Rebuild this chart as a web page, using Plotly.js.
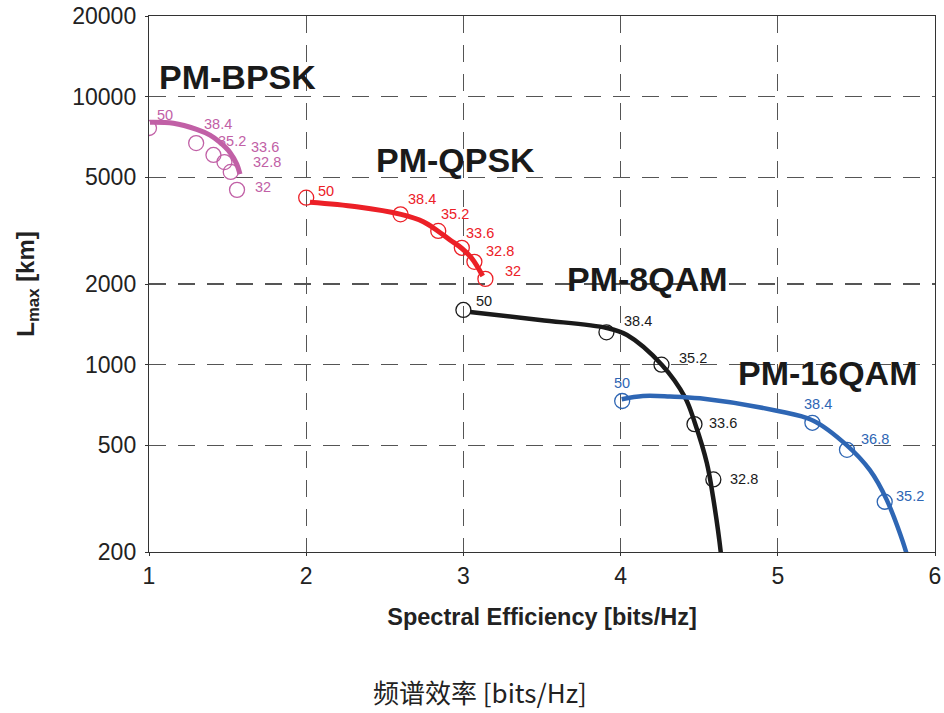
<!DOCTYPE html>
<html>
<head>
<meta charset="utf-8">
<script src="https://cdn.plot.ly/plotly-3.0.1.min.js"></script>
<style>html,body{margin:0;padding:0;background:#fff;}#chart{width:944px;height:713px;}</style>
</head>
<body>
<div id="chart"></div>
<script>
// ---- Data ----
const xTicks = [1, 2, 3, 4, 5, 6];
const yTicks = [200, 500, 1000, 2000, 5000, 10000, 20000];
const yTickText = ['200', '500', '1000', '2000', '5000', '10000', '20000'];

// PM-BPSK
const bpskSE = [1.00, 1.30, 1.41, 1.48, 1.52, 1.56];
const bpskL = [7640, 6710, 6060, 5700, 5240, 4490];
const bpskLabels = ['50', '38.4', '35.2', '33.6', '32.8', '32'];
const bpskFitSE = [1.006, 1.155, 1.303, 1.388, 1.452, 1.515, 1.558, 1.579];
const bpskFitL = [8026, 7956, 7550, 7188, 6750, 6195, 5602, 5136];

// PM-QPSK
const qpskSE = [2.00, 2.60, 2.84, 2.99, 3.07, 3.14];
const qpskL = [4200, 3640, 3155, 2730, 2420, 2090];
const qpskLabels = ['50', '38.4', '35.2', '33.6', '32.8', '32'];
const qpskFitSE = [2.024, 2.321, 2.603, 2.745, 2.837, 2.915, 2.989, 3.053, 3.123];
const qpskFitL = [4037, 3885, 3639, 3417, 3155, 2920, 2719, 2495, 2143];

// PM-8QAM
const qam8SE = [3.00, 3.91, 4.26, 4.47, 4.59];
const qam8L = [1600, 1320, 1000, 600, 373];
const qam8Labels = ['50', '38.4', '35.2', '33.6', '32.8'];
const qam8FitSE = [3.042, 3.487, 3.913, 4.041, 4.263, 4.409, 4.473, 4.549, 4.588, 4.637, 4.645];
const qam8FitL = [1573, 1468, 1371, 1291, 998, 757, 605, 429, 321, 200, 177];

// PM-16QAM
const qam16SE = [4.01, 5.22, 5.44, 5.68];
const qam16L = [732, 607, 481, 308];
const qam16Labels = ['50', '38.4', '36.8', '35.2'];
const qam16FitSE = [4.007, 4.142, 4.314, 4.505, 4.993, 5.226, 5.438, 5.586, 5.693, 5.816, 5.829];
const qam16FitL = [743, 764, 761, 749, 673, 618, 501, 404, 313, 200, 184];

const groupNames = ['PM-BPSK', 'PM-QPSK', 'PM-8QAM', 'PM-16QAM'];

// ---- Styles ----
const FONT = 'Liberation Sans, Arial, Helvetica, sans-serif';
const series = [
  {se: bpskSE, L: bpskL, lab: bpskLabels, fx: bpskFitSE, fy: bpskFitL, color: '#c160a6', lw: 5,
   offs: [[16, 13], [22, 19], [19, 14], [41, 15], [36, 10], [26, 3]], name: {x: 1.56, y: 11840}},
  {se: qpskSE, L: qpskL, lab: qpskLabels, fx: qpskFitSE, fy: qpskFitL, color: '#ec2027', lw: 5,
   offs: [[20, 7], [21, 15], [17, 17], [18, 15], [26, 11], [28, 8]], name: {x: 2.947, y: 5805}},
  {se: qam8SE, L: qam8L, lab: qam8Labels, fx: qam8FitSE, fy: qam8FitL, color: '#1a1a1a', lw: 4.5,
   offs: [[21, 9], [32, 11], [32, 7], [29, 1], [31, 0]], name: {x: 4.168, y: 2089}},
  {se: qam16SE, L: qam16L, lab: qam16Labels, fx: qam16FitSE, fy: qam16FitL, color: '#2e66b4', lw: 4.5,
   offs: [[0, 18], [6, 19], [28, 11], [25, 6]], name: {x: 5.319, y: 931}}
];

const traces = [];
const annotations = [];
series.forEach((s, i) => {
  traces.push({
    x: s.fx, y: s.fy, type: 'scatter', mode: 'lines',
    line: {color: s.color, width: s.lw, shape: 'spline', smoothing: 1},
    hoverinfo: 'skip', showlegend: false
  });
  traces.push({
    x: s.se, y: s.L, type: 'scatter', mode: 'markers',
    marker: {symbol: 'circle-open', size: 15, color: s.color, line: {width: 1.3, color: s.color}},
    showlegend: false
  });
  s.se.forEach((xv, j) => {
    annotations.push({
      x: xv, y: Math.log10(s.L[j]), xref: 'x', yref: 'y',
      text: s.lab[j], showarrow: false,
      xanchor: 'center', yanchor: 'middle',
      xshift: s.offs[j][0], yshift: s.offs[j][1],
      font: {family: FONT, size: 14.5, color: s.color}
    });
  });
  annotations.push({
    x: s.name.x, y: Math.log10(s.name.y), xref: 'x', yref: 'y',
    text: '<b>' + groupNames[i] + '</b>', showarrow: false,
    xanchor: 'center', yanchor: 'middle',
    font: {family: FONT, size: 34, color: '#1a1a1a'}
  });
});

annotations.push({
  x: 0.421, y: -0.261, xref: 'paper', yref: 'paper',
  text: '频谱效率 [bits/Hz]', showarrow: false,
  xanchor: 'center', yanchor: 'middle',
  font: {family: 'Noto Sans CJK SC, sans-serif', size: 26, color: '#222'}
});

const layout = {
  width: 944, height: 713,
  margin: {l: 149, r: 9, t: 16, b: 161},
  paper_bgcolor: '#fff', plot_bgcolor: '#fff',
  font: {family: FONT, color: '#222'},
  xaxis: {
    range: [1, 6], tickvals: xTicks, ticktext: xTicks.map(String),
    showgrid: true, gridcolor: '#555', gridwidth: 1.2, griddash: '17px,12px',
    showline: true, mirror: true, linecolor: '#333', linewidth: 1.2,
    ticks: 'outside', ticklen: 3, tickcolor: '#333',
    tickfont: {family: FONT, size: 23, color: '#222'},
    zeroline: false, automargin: false,
    title: {text: '<b>Spectral Efficiency [bits/Hz]</b>', font: {family: FONT, size: 23.5, color: '#222'}, standoff: 20}
  },
  yaxis: {
    type: 'log', range: [Math.log10(200), Math.log10(20000)],
    tickvals: yTicks, ticktext: yTickText,
    showgrid: true, gridcolor: '#555', gridwidth: 1.2, griddash: '17px,12px',
    showline: true, mirror: true, linecolor: '#333', linewidth: 1.2,
    ticks: 'outside', ticklen: 3, tickcolor: '#333', ticklabelstandoff: 4,
    tickfont: {family: FONT, size: 23, color: '#222'},
    zeroline: false, automargin: false,
    title: {text: '<b>L<sub>max</sub> [km]</b>', font: {family: FONT, size: 24, color: '#222'}, standoff: 30}
  },
  annotations: annotations,
  showlegend: false
};

Plotly.newPlot('chart', traces, layout, {displayModeBar: false, staticPlot: true});
</script>
</body>
</html>
